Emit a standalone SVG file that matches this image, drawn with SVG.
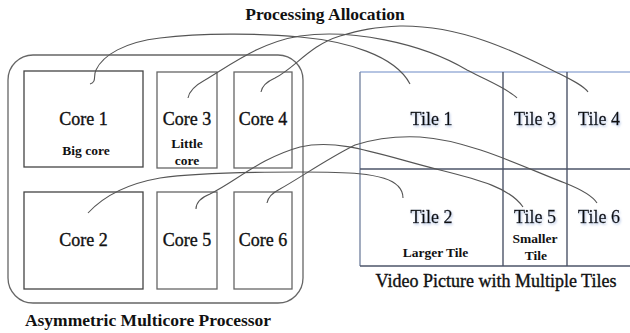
<svg xmlns="http://www.w3.org/2000/svg" width="630" height="333" viewBox="0 0 630 333">
<defs>
<style>
text{font-family:"Liberation Serif","Times New Roman",serif;fill:#111;}
.core{fill:none;stroke:#666;stroke-width:1.3;}
.core.big{stroke:#444;}
.lbl{font-size:18px;text-anchor:middle;stroke:#111;stroke-width:0.35;}
.sub{font-size:13.5px;font-weight:bold;text-anchor:middle;}
.title{font-size:17.5px;font-weight:bold;text-anchor:middle;}
.tile{font-size:18px;text-anchor:middle;stroke:#111;stroke-width:0.35;filter:url(#sh);}
.conn path{fill:none;stroke:#555;stroke-width:1.1;}
.grid{stroke:#4c5468;stroke-width:1.4;fill:none;}
</style>
<filter id="sh" x="-20%" y="-30%" width="140%" height="160%">
<feDropShadow dx="1" dy="1.5" stdDeviation="1" flood-color="#9fb4dc" flood-opacity="0.7"/>
</filter>
</defs>

<rect x="0" y="0" width="630" height="333" fill="#fff"/>

<text class="title" x="325" y="20">Processing Allocation</text>

<g id="processor">
<rect x="8" y="55" width="295" height="248" rx="25" ry="25" fill="none" stroke="#666" stroke-width="1.3"/>
<text class="title" x="148" y="326" font-size="17">Asymmetric Multicore Processor</text>
</g>

<g id="core1">
<rect class="core big" x="24" y="71" width="119" height="96"/>
<text class="lbl" x="83.5" y="125">Core 1</text>
<text class="sub" x="86" y="155">Big core</text>
</g>
<g id="core3">
<rect class="core" x="157" y="72" width="60" height="96"/>
<text class="lbl" x="187" y="125">Core 3</text>
<text class="sub" x="187" y="148">Little</text>
<text class="sub" x="187" y="165">core</text>
</g>
<g id="core4">
<rect class="core" x="234" y="72" width="58" height="96"/>
<text class="lbl" x="263" y="125">Core 4</text>
</g>
<g id="core2">
<rect class="core big" x="24" y="192" width="119" height="97"/>
<text class="lbl" x="83.5" y="246">Core 2</text>
</g>
<g id="core5">
<rect class="core" x="157" y="192" width="60" height="97"/>
<text class="lbl" x="187" y="246">Core 5</text>
</g>
<g id="core6">
<rect class="core" x="234" y="192" width="58" height="97"/>
<text class="lbl" x="263" y="246">Core 6</text>
</g>

<g id="picture">
<line x1="360" y1="72" x2="630" y2="72" stroke="#9db0d8" stroke-width="1.6"/>
<line x1="360" y1="72" x2="360" y2="266" stroke="#7a88a4" stroke-width="1.4"/>
<line class="grid" x1="360" y1="169" x2="630" y2="169" stroke="#2f3547"/>
<line class="grid" x1="360" y1="266" x2="630" y2="266" stroke="#4a5578"/>
<line class="grid" x1="503" y1="72" x2="503" y2="266" stroke="#5a6278"/>
<line class="grid" x1="567" y1="72" x2="567" y2="266" stroke="#2f3547"/>
<text x="496" y="287" font-size="18" text-anchor="middle" stroke="#111" stroke-width="0.35">Video Picture with Multiple Tiles</text>
</g>

<g id="tile1"><text class="tile" x="431.5" y="125">Tile 1</text></g>
<g id="tile3"><text class="tile" x="535" y="125">Tile 3</text></g>
<g id="tile4"><text class="tile" x="599" y="125">Tile 4</text></g>
<g id="tile2">
<text class="tile" x="431.5" y="223">Tile 2</text>
<text class="sub" x="435.5" y="257">Larger Tile</text>
</g>
<g id="tile5">
<text class="tile" x="535" y="223">Tile 5</text>
<text class="sub" x="535" y="243">Smaller</text>
<text class="sub" x="536" y="260">Tile</text>
</g>
<g id="tile6"><text class="tile" x="599" y="223">Tile 6</text></g>

<g id="connectors" class="conn">
<path d="M90,84 C97,82 93,76 96,70 C103,55 125,42 160,38 C200,33 260,33 300,37 C345,41 395,55 410,84"/>
<path d="M188,98 C189,92 194,86 205,80 C235,62 262,42 300,36 C350,29 420,42 467,70 C490,82 510,90 517,98"/>
<path d="M261,92 C262,86 266,82 275,78 C295,68 310,45 340,36 C360,30 375,27 400,26 C470,25 530,60 560,74 C572,80 584,86 588,92"/>
<path d="M88,213 C100,200 120,185 160,178 C200,172 260,172 300,172 C340,172 385,172 398,186 C402,190 403,195 403,198"/>
<path d="M196,209 C196,203 200,198 210,194 C235,182 260,158 300,147 C340,138 380,155 440,170 C480,180 510,188 523,207"/>
<path d="M267,203 C268,197 272,193 280,189 C300,178 325,160 355,145 C380,137 400,136 420,137 C470,140 530,170 565,183 C580,189 592,195 597,203"/>
</g>
</svg>
